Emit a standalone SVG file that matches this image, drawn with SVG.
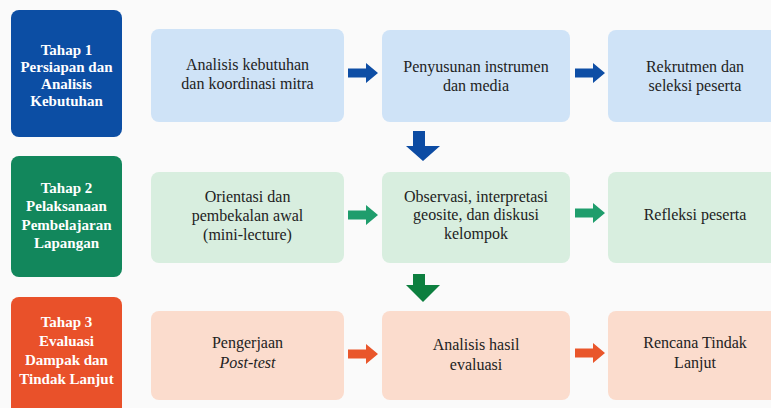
<svg xmlns="http://www.w3.org/2000/svg" width="771" height="408" viewBox="0 0 771 408">
<defs>
<style>
.stage{font-family:Liberation Serif,Tinos,Times New Roman,serif;font-size:15px;font-weight:bold;fill:#ffffff;text-anchor:middle}
.txt{font-size:16px;fill:#222222;text-anchor:middle}
.b1{fill:#0c4ea4}
.b2{fill:#12875c}
.b3{fill:#e9512a}
.p1{fill:#cfe3f7}
.p2{fill:#d8eedf}
.p3{fill:#fbdccd}
</style>
<path id="harrow" d="M0,-4.5 H18 V-10 L30,0 L18,10 V4.5 H0 Z"/>
</defs>
<rect x="0" y="0" width="771" height="408" fill="#fafafa"/>

<g id="stage1"><rect class="b1" x="11" y="10" width="111" height="127" rx="8"/>
<text class="stage" x="66.5" y="55">Tahap 1</text>
<text class="stage" x="66.5" y="72">Persiapan dan</text>
<text class="stage" x="66.5" y="89">Analisis</text>
<text class="stage" x="66.5" y="106">Kebutuhan</text></g>

<g id="stage2"><rect class="b2" x="11" y="156" width="111" height="121" rx="8"/>
<text class="stage" x="66.5" y="193">Tahap 2</text>
<text class="stage" x="66.5" y="211">Pelaksanaan</text>
<text class="stage" x="66.5" y="230">Pembelajaran</text>
<text class="stage" x="66.5" y="248">Lapangan</text></g>

<g id="stage3"><rect class="b3" x="11" y="297" width="111" height="125" rx="8"/>
<text class="stage" x="66.5" y="327">Tahap 3</text>
<text class="stage" x="66.5" y="346">Evaluasi</text>
<text class="stage" x="66.5" y="365">Dampak dan</text>
<text class="stage" x="66.5" y="384">Tindak Lanjut</text></g>

<g font-family="Liberation Serif, serif">
<g id="n11"><rect class="p1" x="151" y="29" width="193" height="93" rx="8"/>
<text class="txt" x="247.5" y="70">Analisis kebutuhan</text>
<text class="txt" x="247.5" y="89">dan koordinasi mitra</text></g>
<g id="n12"><rect class="p1" x="382" y="30" width="188" height="92" rx="8"/>
<text class="txt" x="476" y="72">Penyusunan instrumen</text>
<text class="txt" x="476" y="91">dan media</text></g>
<g id="n13"><rect class="p1" x="608" y="30" width="180" height="92" rx="8"/>
<text class="txt" x="695" y="72">Rekrutmen dan</text>
<text class="txt" x="695" y="91">seleksi peserta</text></g>

<g id="n21"><rect class="p2" x="151" y="172" width="193" height="91" rx="8"/>
<text class="txt" x="247.5" y="202">Orientasi dan</text>
<text class="txt" x="247.5" y="221">pembekalan awal</text>
<text class="txt" x="247.5" y="240">(mini-lecture)</text></g>
<g id="n22"><rect class="p2" x="382" y="172" width="188" height="91" rx="8"/>
<text class="txt" x="476" y="202">Observasi, interpretasi</text>
<text class="txt" x="476" y="220">geosite, dan diskusi</text>
<text class="txt" x="476" y="239">kelompok</text></g>
<g id="n23"><rect class="p2" x="608" y="172" width="180" height="91" rx="8"/>
<text class="txt" x="695" y="220">Refleksi peserta</text></g>

<g id="n31"><rect class="p3" x="151" y="311" width="193" height="89" rx="8"/>
<text class="txt" x="247.5" y="348">Pengerjaan</text>
<text class="txt" x="247.5" y="368" font-style="italic">Post-test</text></g>
<g id="n32"><rect class="p3" x="382" y="311" width="188" height="89" rx="8"/>
<text class="txt" x="476" y="350">Analisis hasil</text>
<text class="txt" x="476" y="370">evaluasi</text></g>
<g id="n33"><rect class="p3" x="608" y="311" width="180" height="89" rx="8"/>
<text class="txt" x="695" y="348">Rencana Tindak</text>
<text class="txt" x="695" y="368">Lanjut</text></g>
</g>

<g id="connectors">
<use href="#harrow" x="348" y="73" fill="#0e4ea5"/>
<use href="#harrow" x="575" y="73" fill="#0e4ea5"/>
<use href="#harrow" x="348" y="215" fill="#1f9d6c"/>
<use href="#harrow" x="575" y="213" fill="#1f9d6c"/>
<use href="#harrow" x="348" y="354" fill="#e9562b"/>
<use href="#harrow" x="575" y="353" fill="#e9562b"/>
<path d="M413,131 H425 V146 H440 L423,161 L406,146 H413 Z" fill="#0c4ba3"/>
<path d="M413,274 H425 V285 H440 L423,302 L406,285 H413 Z" fill="#0d7f3f"/>
</g>
</svg>
